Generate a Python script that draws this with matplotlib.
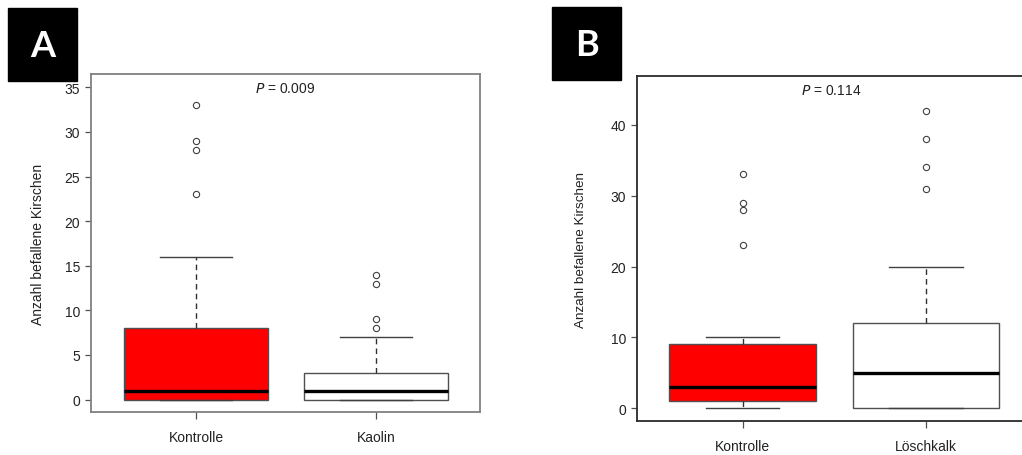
import matplotlib
matplotlib.use("Agg")
import matplotlib.pyplot as plt
from matplotlib.patches import Rectangle

plt.rcParams['font.family'] = ['Liberation Sans', 'DejaVu Sans']

# Panel A: Kontrolle vs Kaolin
groups_a = ["Kontrolle", "Kaolin"]
q1_a = [0, 0]
med_a = [1, 1]
q3_a = [8, 3]
whislo_a = [0, 0]
whishi_a = [16, 7]
fliers_a = [[23, 28, 29, 33], [8, 9, 13, 14]]
colors_a = ["#ff0000", "white"]
p_a = "0.009"

# Panel B: Kontrolle vs Löschkalk
groups_b = ["Kontrolle", "Löschkalk"]
q1_b = [1, 0]
med_b = [3, 5]
q3_b = [9, 12]
whislo_b = [0, 0]
whishi_b = [10, 20]
fliers_b = [[23, 28, 29, 33], [31, 34, 38, 42]]
colors_b = ["#ff0000", "white"]
p_b = "0.114"

ylabel = "Anzahl befallene Kirschen"


def make_stats(names, q1, med, q3, lo, hi, fl):
    stats = []
    for i in range(len(names)):
        stats.append(dict(label=names[i], q1=q1[i], med=med[i], q3=q3[i],
                          whislo=lo[i], whishi=hi[i], fliers=fl[i]))
    return stats


def draw_panel(ax, stats, colors, frame_col, ylim, xlim, yticks, ptext, lpad, lsize):
    bp = ax.bxp(stats, positions=[1, 2], widths=0.8, capwidths=0.4,
                patch_artist=True, manage_ticks=False,
                boxprops=dict(edgecolor="#505050", linewidth=1.0),
                medianprops=dict(color="black", linewidth=2.4),
                whiskerprops=dict(color="#303030", linestyle=(0, (4, 3)), linewidth=1.0),
                capprops=dict(color="#404040", linewidth=1.0),
                flierprops=dict(marker="o", markersize=4.5, markerfacecolor="none",
                                markeredgecolor="#404040", markeredgewidth=0.8))
    for patch, c in zip(bp["boxes"], colors):
        patch.set_facecolor(c)
    ax.set_xlim(*xlim)
    ax.set_ylim(*ylim)
    ax.set_yticks(yticks)
    ax.set_xticks([1, 2])
    ax.set_xticklabels([s["label"] for s in stats], fontsize=10, color="#222222")
    ax.tick_params(axis="y", length=4, width=0.9, color="#505050", labelsize=10,
                   labelcolor="#222222", pad=4)
    ax.tick_params(axis="x", length=5, width=0.9, color="#505050", pad=8)
    for sp in ax.spines.values():
        sp.set_color(frame_col)
        sp.set_linewidth(1.3)
    ax.set_ylabel(ylabel, fontsize=lsize, color="#222222", labelpad=lpad)
    ax.text(0.5, 0.96, "$P$ = " + ptext, transform=ax.transAxes, ha="center",
            va="center", fontsize=10, color="#222222")


fig = plt.figure(figsize=(10.22, 4.56), dpi=100)
W, H = 1022, 456

ax_a = fig.add_axes([91 / W, (H - 413) / H, 389 / W, 338 / H])
draw_panel(ax_a, make_stats(groups_a, q1_a, med_a, q3_a, whislo_a, whishi_a, fliers_a),
           colors_a, "#808080", (-1.4, 36.5), (0.417, 2.578), range(0, 36, 5), p_a, 14, 10)

ax_b = fig.add_axes([637 / W, (H - 422) / H, 388 / W, 345 / H])
draw_panel(ax_b, make_stats(groups_b, q1_b, med_b, q3_b, whislo_b, whishi_b, fliers_b),
           colors_b, "#2a2a2a", (-1.8, 46.9), (0.423, 2.54), range(0, 41, 10), p_b, 17, 9.7)

# black panel labels
for (x0, y0, w, h, lab) in [(8, 9, 69, 73, "A"), (552, 8, 69, 73, "B")]:
    fig.patches.append(Rectangle((x0 / W, 1 - (y0 + h) / H), w / W, h / H,
                                 transform=fig.transFigure, color="black"))
    fig.text((x0 + w / 2) / W, 1 - (y0 + h / 2 + 1) / H, lab, color="white",
             fontsize=26, fontweight="bold", family=["Lato", "DejaVu Sans"],
             ha="center", va="center")

fig.savefig("out.png", dpi=100)
